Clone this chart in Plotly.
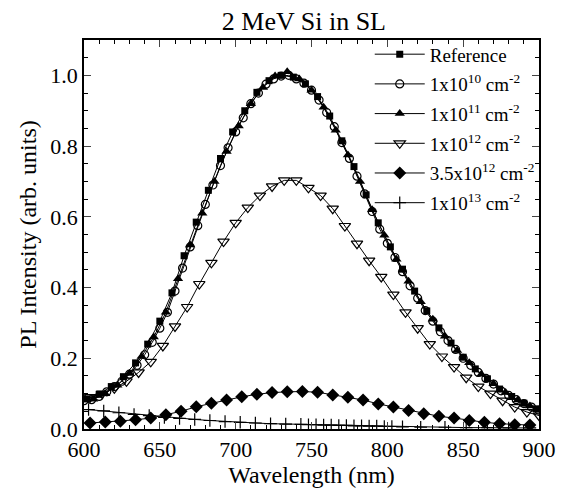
import plotly.graph_objects as go

# ---- data ----
ref_x = [602, 610, 618, 626, 634, 642, 650, 658, 666, 674, 682, 690, 698, 706, 714, 722, 730, 738, 746, 754,
         762, 770, 778, 786, 794, 802, 810, 818, 826, 834, 842, 850, 858, 866, 874, 882, 890, 898]
ref_y = [0.085, 0.098, 0.12, 0.148, 0.187, 0.24, 0.305, 0.385, 0.49, 0.585, 0.675, 0.765, 0.84, 0.9, 0.952,
         0.985, 1.0, 0.995, 0.976, 0.94, 0.885, 0.815, 0.742, 0.662, 0.583, 0.515, 0.452, 0.39, 0.334, 0.286,
         0.243, 0.203, 0.17, 0.142, 0.113, 0.092, 0.073, 0.057]

e10_x = [600, 605, 610, 615, 620, 625, 630, 635, 640, 645, 650, 655, 660, 665, 670, 675, 680, 685, 690, 695,
         700, 705, 710, 715, 720, 725, 730, 735, 740, 745, 750, 755, 760, 765, 770, 775, 780, 785, 790, 795,
         800, 805, 810, 815, 820, 825, 830, 835, 840, 845, 850, 855, 860, 865, 870, 875, 880, 885, 890, 895, 900]
e10_y = [0.08, 0.083, 0.092, 0.105, 0.12, 0.135, 0.155, 0.18, 0.21, 0.245, 0.285, 0.33, 0.39, 0.455, 0.515,
         0.575, 0.635, 0.69, 0.745, 0.795, 0.84, 0.88, 0.92, 0.95, 0.975, 0.99, 0.998, 1.0, 0.99, 0.978,
         0.958, 0.93, 0.895, 0.855, 0.81, 0.765, 0.715, 0.665, 0.615, 0.565, 0.525, 0.485, 0.445, 0.405,
         0.37, 0.335, 0.305, 0.275, 0.25, 0.225, 0.2, 0.18, 0.16, 0.143, 0.127, 0.108, 0.095, 0.083, 0.072,
         0.062, 0.053]

e11_x = [606, 614, 622, 630, 638, 646, 654, 662, 670, 678, 686, 694, 702, 710, 718, 726, 734, 742, 750, 758,
         766, 774, 782, 790, 798, 806, 814, 822, 830, 838, 846, 854, 862, 870, 878, 886, 894]
e11_y = [0.084, 0.1, 0.124, 0.157, 0.205, 0.26, 0.33, 0.425, 0.52, 0.61, 0.7, 0.785, 0.857, 0.92, 0.966,
         0.998, 1.01, 0.99, 0.958, 0.91, 0.845, 0.775, 0.7, 0.62, 0.548, 0.48, 0.418, 0.36, 0.31, 0.262,
         0.222, 0.187, 0.155, 0.128, 0.103, 0.082, 0.065]

e12_x = [604, 612, 620, 628, 636, 644, 652, 660, 668, 676, 684, 692, 700, 708, 716, 724, 732, 740, 748, 756,
         764, 772, 780, 788, 796, 804, 812, 820, 828, 836, 844, 852, 860, 868, 876, 884, 892, 900]
e12_y = [0.09, 0.1, 0.115, 0.135, 0.16, 0.19, 0.235, 0.29, 0.345, 0.41, 0.47, 0.53, 0.583, 0.626, 0.66,
         0.686, 0.703, 0.703, 0.682, 0.66, 0.623, 0.574, 0.524, 0.476, 0.43, 0.38, 0.33, 0.285, 0.24, 0.205,
         0.175, 0.145, 0.12, 0.1, 0.08, 0.062, 0.048, 0.038]

e35_x = [604, 614, 624, 634, 644, 654, 664, 674, 684, 694, 704, 714, 724, 734, 744, 754, 764, 774, 784, 794,
         804, 814, 824, 834, 844, 854, 864, 874, 884, 894]
e35_y = [0.017, 0.02, 0.022, 0.026, 0.031, 0.04, 0.05, 0.063, 0.073, 0.082, 0.091, 0.098, 0.103, 0.105,
         0.106, 0.104, 0.096, 0.09, 0.082, 0.071, 0.062, 0.052, 0.043, 0.036, 0.031, 0.024, 0.019, 0.015,
         0.012, 0.011]

e13_x = [603, 613, 623, 633, 643, 653, 663, 673, 683, 693, 703, 713, 723, 733, 743, 748, 753, 758, 763, 768,
         773, 778, 783, 788, 793, 798, 803, 810, 822, 838, 852, 866, 880, 894]
e13_y = [0.055, 0.051, 0.046, 0.041, 0.038, 0.033, 0.03, 0.027, 0.024, 0.021, 0.019, 0.017, 0.015, 0.014,
         0.013, 0.012, 0.012, 0.011, 0.011, 0.01, 0.01, 0.009, 0.009, 0.008, 0.008, 0.007, 0.007, 0.006,
         0.005, 0.005, 0.004, 0.004, 0.003, 0.003]

names = ["Reference",
         "1x10<sup>10</sup> cm<sup>-2</sup>",
         "1x10<sup>11</sup> cm<sup>-2</sup>",
         "1x10<sup>12</sup> cm<sup>-2</sup>",
         "3.5x10<sup>12</sup> cm<sup>-2</sup>",
         "1x10<sup>13</sup> cm<sup>-2</sup>"]

series = [
    (ref_x, ref_y, dict(symbol="square", size=7, color="black")),
    (e10_x, e10_y, dict(symbol="circle-open", size=8, color="black", line=dict(width=1.2, color="black"))),
    (e11_x, e11_y, dict(symbol="triangle-up", size=9, color="black")),
    (e12_x, e12_y, dict(symbol="triangle-down-open", size=10, color="black", line=dict(width=1.2, color="black"))),
    (e35_x, e35_y, dict(symbol="diamond", size=10, color="black")),
    (e13_x, e13_y, dict(symbol="cross-thin-open", size=9, color="black", line=dict(width=1.2, color="black"))),
]

fig = go.Figure()
for i, ((x, y, mk), nm) in enumerate(zip(series, names)):
    fig.add_trace(go.Scatter(x=x, y=y, mode="lines+markers", name=nm, legendgroup=f"g{i}",
                             line=dict(color="black", width=1), marker=mk))
# invisible anchor trace so the top/right tick axes are drawn
fig.add_trace(go.Scatter(x=[ref_x[0]], y=[ref_y[0]], xaxis="x2", yaxis="y2", mode="markers",
                         marker=dict(opacity=0), showlegend=False, hoverinfo="skip"))

font = "Liberation Serif"
xminor = dict(dtick=10, ticks="inside", ticklen=4, tickcolor="black", showgrid=False)
yminor = dict(dtick=0.05, ticks="inside", ticklen=4, tickcolor="black", showgrid=False)

fig.update_layout(
    width=568, height=491,
    margin=dict(l=84, r=28, t=40, b=60),
    plot_bgcolor="rgba(0,0,0,0)", paper_bgcolor="white",
    font=dict(family=font, color="black", size=18),
    title=dict(text="2 MeV Si in SL", x=0.535, xanchor="center", y=0.975, yanchor="top",
               font=dict(size=26, family=font)),
    legend=dict(x=0.628, y=1.012, xanchor="left", yanchor="top", bgcolor="rgba(0,0,0,0)",
                font=dict(size=19, family=font), itemwidth=50, tracegroupgap=2),
    showlegend=True,
    xaxis=dict(range=[600, 900], dtick=50, tick0=600, ticks="inside", ticklen=7,
               tickwidth=1, showline=True, linecolor="black", linewidth=1.5, mirror="ticks", showgrid=False,
               zeroline=False, title=dict(text="Wavelength (nm)", font=dict(size=24), standoff=0),
               tickfont=dict(size=22), minor=xminor),
    yaxis=dict(range=[0, 1.1], dtick=0.2, tick0=0, tickformat=".1f", ticks="inside", ticklen=7,
               tickwidth=1, showline=True, linecolor="black", linewidth=1.5, mirror="ticks",
               showgrid=False, zeroline=False,
               title=dict(text="PL Intensity (arb. units)", font=dict(size=24), standoff=7),
               tickfont=dict(size=22), minor=yminor),
    xaxis2=dict(overlaying="x", side="top", anchor="y", range=[600, 900], dtick=50,
                tick0=600, ticks="inside", ticklen=7, showticklabels=False, showgrid=False, zeroline=False,
                minor=xminor),
    yaxis2=dict(overlaying="y", side="right", anchor="x", range=[0, 1.1], dtick=0.2, tick0=0,
                ticks="inside", ticklen=7, showticklabels=False, showgrid=False, zeroline=False,
                minor=yminor),
)

fig.write_html("out.html")
